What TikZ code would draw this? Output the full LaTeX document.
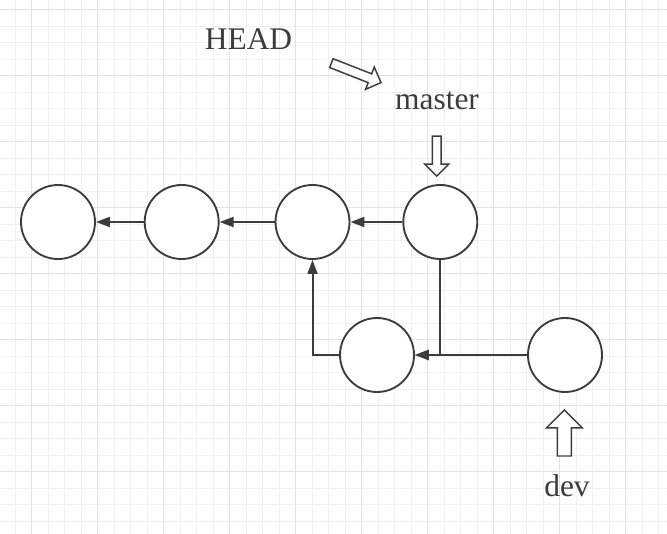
\documentclass[tikz,border=0pt]{standalone}
\usepackage{fontspec}
\setmainfont{Liberation Serif}
\usetikzlibrary{arrows.meta,shapes.arrows}
\definecolor{inkgray}{HTML}{3C3C3C}
\definecolor{minorgrid}{HTML}{F0F0F0}
\definecolor{majorgrid}{HTML}{E2E2E2}
\tikzset{
  commit/.style={circle, draw=inkgray, line width=1.4pt, fill=white, minimum size=55.5pt, inner sep=0pt},
  link/.style={draw=inkgray, line width=1.5pt, -{Triangle[length=10.5pt,width=7.5pt]}},
  refname/.style={text=inkgray, font=\fontsize{23.6}{28}\selectfont, anchor=base, inner sep=0pt},
  ptr/.style={single arrow, draw=inkgray, fill=white, line width=1.1pt, inner xsep=0pt, outer sep=0pt},
}

\begin{document}
\begin{tikzpicture}[x=0.75pt, y=-0.75pt]
        \useasboundingbox (0,0) rectangle (667,534);
        \fill[white] (0,0) rectangle (667,534);
        % grid
        \foreach \i in {0,...,39}
                \draw[minorgrid, line width=1pt] ({15.2+16.5*\i},0) -- ({15.2+16.5*\i},534);
        \foreach \i in {0,...,31}
                \draw[minorgrid, line width=1pt] (0,{9.7+16.5*\i}) -- (667,{9.7+16.5*\i});
        \foreach \i in {0,...,9}
                \draw[majorgrid, line width=1pt] ({31.7+66*\i},0) -- ({31.7+66*\i},534);
        \foreach \i in {0,...,7}
                \draw[majorgrid, line width=1pt] (0,{9.7+66*\i}) -- (667,{9.7+66*\i});

        \node[commit] (c1) at (58,222) {};
        \node[commit] (c2) at (181.7,222) {};
        \node[commit] (c3) at (312.5,222) {};
        \node[commit] (c4) at (440.3,222) {};
        \node[commit] (c5) at (377,355) {};
        \node[commit] (c6) at (565,355) {};

        \draw[link] (c2) -- (c1);
        \draw[link] (c3) -- (c2);
        \draw[link] (c4) -- (c3);
        \draw[link] (c5.west) -| (c3.south);
        \draw[link] (c4.south) |- (c5.east);
        \draw[link] (c6.west) -- (c5.east);

        \node[refname] (head) at (248.5,50) {HEAD};
        \node[refname] (master) at (437,110) {master};
        \node[refname] (dev) at (567,496.3) {dev};

        \node[ptr, rotate=-21.4, minimum height=40pt, inner ysep=3pt, single arrow head extend=5.4pt] (headptr) at (354,72) {};
        \node[ptr, rotate=-90, minimum height=30pt, inner ysep=2.7pt, single arrow head extend=5.8pt] (masterptr) at (436.7,154) {};
        \node[ptr, rotate=90, minimum height=34.5pt, inner ysep=4.7pt, single arrow head extend=8.2pt] (devptr) at (564.3,436.5) {};
\end{tikzpicture}
\end{document}
